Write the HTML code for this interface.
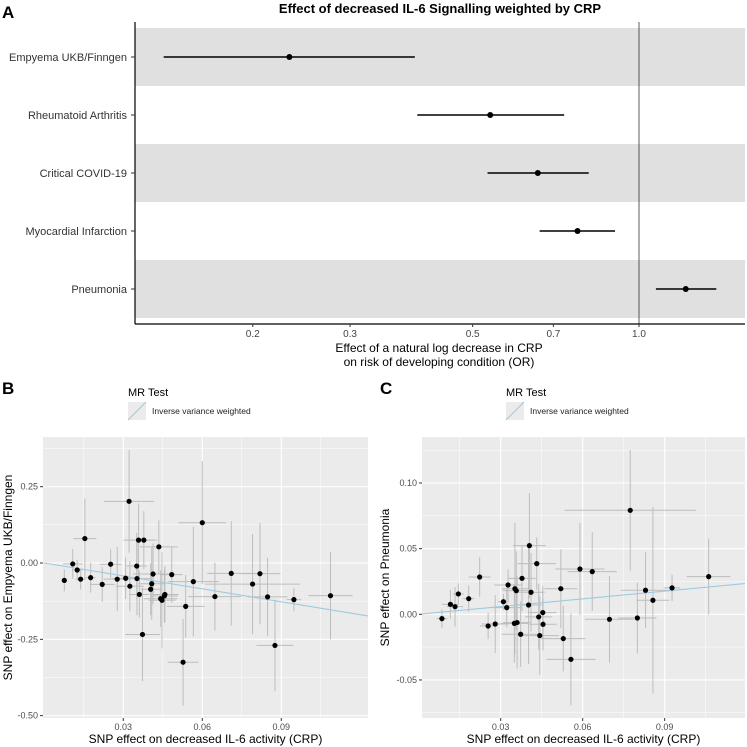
<!DOCTYPE html>
<html><head><meta charset="utf-8"><style>
body{margin:0;background:#fff}
svg{display:block;font-family:"Liberation Sans",sans-serif}
</style></head><body>
<svg id="s" width="747" height="747" viewBox="0 0 747 747"></svg>
<script>
// Panel A data
const aLabels=["Empyema UKB/Finngen","Rheumatoid Arthritis","Critical COVID-19","Myocardial Infarction","Pneumonia"];
const aEst=[0.233,0.538,0.656,0.774,1.215];
const aLo=[0.138,0.397,0.532,0.661,1.073];
const aHi=[0.393,0.732,0.811,0.905,1.38];
const aTicks=[0.2,0.3,0.5,0.7,1.0];
const aTickLabels=["0.2","0.3","0.5","0.7","1.0"];
// Panel B data
const bX=[0.0076,0.0108,0.0125,0.0138,0.0154,0.0176,0.0220,0.0252,0.0277,0.0309,0.0322,0.0325,0.0351,0.0352,0.0358,0.0361,0.0373,0.0378,0.0404,0.0408,0.0413,0.0435,0.0442,0.0447,0.0458,0.0456,0.0484,0.0527,0.0537,0.0566,0.0600,0.0648,0.0710,0.0791,0.0819,0.0848,0.0876,0.0948,0.1087];
const bY=[-0.057,-0.003,-0.023,-0.053,0.080,-0.048,-0.070,-0.004,-0.053,-0.050,0.202,-0.076,-0.010,-0.051,0.075,-0.103,-0.234,0.075,-0.086,-0.068,-0.036,0.053,-0.117,-0.122,-0.103,-0.108,-0.038,-0.325,-0.142,-0.061,0.132,-0.110,-0.034,-0.069,-0.035,-0.111,-0.270,-0.120,-0.107];
const bXe=[0.001,0.0037,0.0019,0.0019,0.0044,0.0019,0.0047,0.0041,0.0051,0.0051,0.0095,0.0053,0.0038,0.0053,0.0058,0.0038,0.0066,0.0051,0.0038,0.0051,0.0076,0.0072,0.0063,0.0051,0.0051,0.0051,0.0041,0.0058,0.0071,0.0097,0.0091,0.0101,0.0091,0.018,0.0078,0.0076,0.007,0.0028,0.0084];
const bYe=[0.036,0.049,0.033,0.034,0.131,0.049,0.057,0.049,0.105,0.068,0.168,0.082,0.109,0.120,0.120,0.076,0.153,0.095,0.085,0.118,0.100,0.087,0.093,0.158,0.093,0.087,0.093,0.142,0.103,0.180,0.202,0.111,0.171,0.164,0.166,0.128,0.150,0.038,0.143];
const bSlope=[-1.41];
const bXTicks=[0.03,0.06,0.09], bYTicks=[0.25,0,-0.25,-0.5];
const bYTickLabels=["0.25","0.00","-0.25","-0.50"];
// Panel C data
const cX=[0.0085,0.0116,0.0133,0.0145,0.0183,0.0223,0.0254,0.0280,0.0310,0.0322,0.0327,0.0350,0.0352,0.0357,0.0360,0.0373,0.0378,0.0402,0.0405,0.0411,0.0432,0.0439,0.0443,0.0454,0.0455,0.0520,0.0529,0.0557,0.0590,0.0635,0.0698,0.0774,0.0800,0.0830,0.0857,0.0927,0.1061];
const cY=[-0.0033,0.0076,0.0058,0.0155,0.0119,0.0284,-0.0089,-0.0074,0.0096,0.0051,0.0223,-0.0069,0.0195,0.0180,-0.0063,-0.0152,0.0274,0.0071,0.0523,0.0168,0.0386,-0.0020,-0.0162,0.0013,-0.0076,0.0195,-0.0185,-0.0343,0.0345,0.0325,-0.0038,0.0792,-0.0028,0.0183,0.0107,0.0201,0.0287];
const cXe=[0.002,0.003,0.003,0.002,0.002,0.004,0.003,0.005,0.002,0.005,0.005,0.005,0.005,0.005,0.005,0.007,0.005,0.005,0.006,0.005,0.007,0.005,0.007,0.005,0.005,0.006,0.008,0.009,0.009,0.009,0.009,0.024,0.007,0.009,0.006,0.003,0.008];
const cYe=[0.007,0.011,0.015,0.008,0.010,0.015,0.010,0.022,0.006,0.015,0.012,0.030,0.050,0.030,0.035,0.025,0.025,0.045,0.040,0.030,0.020,0.025,0.030,0.020,0.020,0.030,0.025,0.035,0.035,0.030,0.033,0.046,0.027,0.029,0.071,0.010,0.029];
const cSlope=[0.196];
const cXTicks=[0.03,0.06,0.09], cYTicks=[0.10,0.05,0,-0.05];
const cYTickLabels=["0.10","0.05","0.00","-0.05"];

const svg=document.getElementById('s');
const NS='http://www.w3.org/2000/svg';
function el(tag,attrs,parent){const e=document.createElementNS(NS,tag);for(const k in attrs)e.setAttribute(k,attrs[k]);(parent||svg).appendChild(e);return e;}
function txt(str,attrs,parent){const e=el('text',attrs,parent);e.textContent=str;return e;}

// ---------- Panel A ----------
const gA=el('g',{});


const aL=135,aR=745,aT=22,aB=324,rowH=58,row0=57;
const ax=v=>639+240*Math.log(v);
const ay=i=>row0+i*rowH;
aLabels.forEach((l,i)=>{
  if(i%2===0){const r=el('rect',{x:aL,y:ay(i)-29,width:aR-aL,height:58,fill:'#e0e0e0'},gA);
    
    }
});
const vl=el('line',{x1:ax(1),x2:ax(1),y1:aT,y2:aB,stroke:'#333','stroke-width':0.8},gA);


el('line',{x1:aL,x2:aL,y1:aT,y2:aB,stroke:'#000','stroke-width':1.2},gA);
el('line',{x1:aL,x2:aR,y1:aB,y2:aB,stroke:'#000','stroke-width':1.2},gA);
aLabels.forEach((l,i)=>{
  const t=txt(l,{x:127,y:ay(i)+4,'text-anchor':'end','font-size':11,fill:'#333'},gA);
  
  
  el('line',{x1:131,x2:aL,y1:ay(i),y2:ay(i),stroke:'#333'},gA);
  const ci=el('line',{x1:ax(aLo[i]),x2:ax(aHi[i]),y1:ay(i),y2:ay(i),stroke:'#000','stroke-width':1.6},gA);
  
  
  const p=el('circle',{cx:ax(aEst[i]),cy:ay(i),r:3,fill:'#000'},gA);
  
  
});
aTicks.forEach((v,i)=>{
  el('line',{x1:ax(v),x2:ax(v),y1:aB,y2:aB+3,stroke:'#333'},gA);
  const t=txt(aTickLabels[i],{x:ax(v),y:337,'text-anchor':'middle','font-size':10,fill:'#444'},gA);
  
  
});
let t;
t=txt('Effect of a natural log decrease in CRP',{x:439,y:352,'text-anchor':'middle','font-size':12,fill:'#000'},gA);

t=txt('on risk of developing condition (OR)',{x:439,y:366,'text-anchor':'middle','font-size':12,fill:'#000'},gA);

t=txt('Effect of decreased IL-6 Signalling weighted by CRP',{x:440,y:13,'text-anchor':'middle','font-size':13,'font-weight':'bold',fill:'#000'},gA);

t=txt('A',{x:2,y:18,'font-size':17,'font-weight':'bold',fill:'#000'},gA);


// ---------- Scatter panels ----------
function scatter(o){
  const g=el('g',{});
  
  
  const sx=v=>o.x0+v*o.kx, sy=v=>o.y0-v*o.ky;
  el('rect',{x:o.L,y:o.T,width:o.R-o.L,height:o.B-o.T,fill:'#ebebeb'},g);
  const minor=[],cp=document.createElementNS(NS,'clipPath');
  const cid='clip'+o.name;cp.setAttribute('id',cid);svg.appendChild(cp);
  el('rect',{x:o.L,y:o.T,width:o.R-o.L,height:o.B-o.T},cp);
  const xs=o.xt[1]-o.xt[0], ys=o.yt[0]-o.yt[1];
  for(let k=-2;k<=o.xt.length+1;k++){const v=o.xt[0]+(k-0.5)*xs;const px=sx(v);if(px>o.L&&px<o.R)el('line',{x1:px,x2:px,y1:o.T,y2:o.B,stroke:'#fff','stroke-width':0.5},g);}
  for(let k=-2;k<=o.yt.length+1;k++){const v=o.yt[0]-(k-0.5)*ys;const py=sy(v);if(py>o.T&&py<o.B)el('line',{x1:o.L,x2:o.R,y1:py,y2:py,stroke:'#fff','stroke-width':0.5},g);}
  o.xt.forEach(v=>{el('line',{x1:sx(v),x2:sx(v),y1:o.T,y2:o.B,stroke:'#fff','stroke-width':1.1},g);
    el('line',{x1:sx(v),x2:sx(v),y1:o.B,y2:o.B+3,stroke:'#333'},g);
    const tt=txt(v.toFixed(2),{x:sx(v),y:o.B+12,'text-anchor':'middle','font-size':9,fill:'#4d4d4d'},g);
    });
  o.yt.forEach((v,i)=>{el('line',{x1:o.L,x2:o.R,y1:sy(v),y2:sy(v),stroke:'#fff','stroke-width':1.1},g);
    el('line',{x1:o.L-3,x2:o.L,y1:sy(v),y2:sy(v),stroke:'#333'},g);
    const tt=txt(o.ytl[i],{x:o.L-5,y:sy(v)+3,'text-anchor':'end','font-size':9,fill:'#4d4d4d'},g);
    });
  const pg=el('g',{'clip-path':'url(#'+cid+')'},g);
  o.X.forEach((x,i)=>{
    const eb=el('line',{x1:sx(x),x2:sx(x),y1:sy(o.Y[i]-o.Ye[i]),y2:sy(o.Y[i]+o.Ye[i]),stroke:'#bdbdbd','stroke-width':1},pg);
    
    const ex=el('line',{x1:sx(x-o.Xe[i]),x2:sx(x+o.Xe[i]),y1:sy(o.Y[i]),y2:sy(o.Y[i]),stroke:'#bdbdbd','stroke-width':1},pg);
    
  });
  const xl=(o.L-o.x0)/o.kx, xr=(o.R-o.x0)/o.kx;
  const ln=el('line',{x1:sx(Math.max(0,xl)),y1:sy(o.slope[0]*Math.max(0,xl)),x2:sx(xr),y2:sy(o.slope[0]*xr),stroke:'#9ecae1','stroke-width':1.1},pg);
  
  o.X.forEach((x,i)=>{
    const c=el('circle',{cx:sx(x),cy:sy(o.Y[i]),r:2.6,fill:'#000'},pg);
    
  });
  let tt=txt('SNP effect on decreased IL-6 activity (CRP)',{x:(o.L+o.R)/2,y:743,'text-anchor':'middle','font-size':12,fill:'#000'},g);
  
  tt=txt(o.ylab,{x:0,y:0,transform:'translate('+o.ylx+','+((o.T+o.B)/2)+') rotate(-90)','text-anchor':'middle','font-size':12,fill:'#000'},g);
  
  tt=txt(o.letter,{x:o.lx,y:394,'font-size':17,'font-weight':'bold',fill:'#000'},g);
  
  const lg=el('g',{},g);
  
  tt=txt('MR Test',{x:o.legx,y:396,'font-size':11,fill:'#000'},lg);
  
  el('rect',{x:o.legx,y:402,width:18,height:18,fill:'#ebebeb'},lg);
  el('line',{x1:o.legx,y1:420,x2:o.legx+18,y2:402,stroke:'#9ecae1','stroke-width':1},lg);
  tt=txt('Inverse variance weighted',{x:o.legx+24,y:414,'font-size':8.5,fill:'#222'},lg);
  
}
scatter({name:'scatter-b',letter:'B',lx:2,legx:128,L:43,R:368,T:437,B:718,x0:44.3,kx:2633,y0:563,ky:305.3,
  xt:bXTicks,yt:bYTicks,ytl:bYTickLabels,X:bX,Y:bY,Xe:bXe,Ye:bYe,slope:bSlope,ylab:'SNP effect on Empyema UKB/Finngen',ylx:12});
scatter({name:'scatter-c',letter:'C',lx:380,legx:506,L:422,R:745,T:437,B:718,x0:418.7,kx:2733,y0:614.3,ky:1313,
  xt:cXTicks,yt:cYTicks,ytl:cYTickLabels,X:cX,Y:cY,Xe:cXe,Ye:cYe,slope:cSlope,ylab:'SNP effect on Pneumonia',ylx:389});
</script>
</body></html>
